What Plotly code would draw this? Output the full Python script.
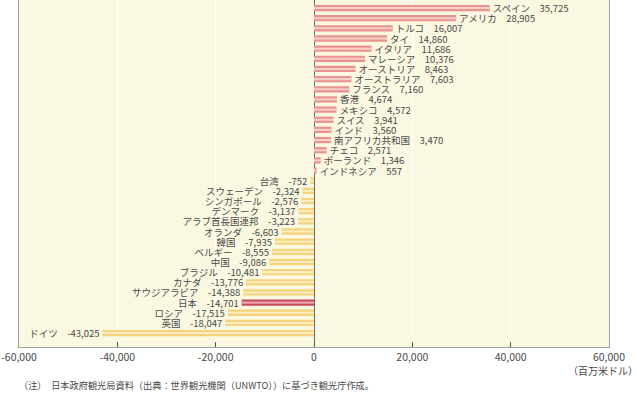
import plotly.graph_objects as go

countries = ["スペイン", "アメリカ", "トルコ", "タイ", "イタリア", "マレーシア", "オーストリア",
             "オーストラリア", "フランス", "香港", "メキシコ", "スイス", "インド", "南アフリカ共和国",
             "チェコ", "ポーランド", "インドネシア", "台湾", "スウェーデン", "シンガポール",
             "デンマーク", "アラブ首長国連邦", "オランダ", "韓国", "ベルギー", "中国", "ブラジル",
             "カナダ", "サウジアラビア", "日本", "ロシア", "英国", "ドイツ"]
values = [35725, 28905, 16007, 14860, 11686, 10376, 8463, 7603, 7160, 4674, 4572, 3941, 3560,
          3470, 2571, 1346, 557, -752, -2324, -2576, -3137, -3223, -6603, -7935, -8555, -9086,
          -10481, -13776, -14388, -14701, -17515, -18047, -43025]
tick_vals = [-60000, -40000, -20000, 0, 20000, 40000, 60000]
tick_text = ["-60,000", "-40,000", "-20,000", "0", "20,000", "40,000", "60,000"]

FONT = "Noto Sans CJK JP"
pos = list(range(len(countries)))

outer, inner, labels = [], [], []
for c, v in zip(countries, values):
    if c == "日本":
        outer.append("#C9485C"); inner.append("#EBA3AE")
    elif v >= 0:
        outer.append("#E8938E"); inner.append("#F7CFC6")
    else:
        outer.append("#F5D37E"); inner.append("#FCEDBE")
    labels.append(f"{c}\u3000{v:,}")

fig = go.Figure()
fig.add_trace(go.Bar(
    y=pos, x=values, orientation="h", width=0.62,
    marker=dict(color=outer, line=dict(width=0)),
    text=labels, textposition="outside", cliponaxis=False,
    textfont=dict(family=FONT, size=9.5, color="#4a4a4a"),
    constraintext="none", hoverinfo="skip"))
fig.add_trace(go.Bar(
    y=pos, x=values, orientation="h", width=0.2,
    marker=dict(color=inner, line=dict(width=0)), hoverinfo="skip"))

fig.update_layout(
    width=637, height=393, barmode="overlay", showlegend=False,
    margin=dict(l=19, r=28, t=0, b=46),
    paper_bgcolor="white", plot_bgcolor="#FBF8E1",
    font=dict(family=FONT, size=10, color="#4a4a4a"),
    xaxis=dict(range=[-60000, 60000], tickvals=tick_vals, ticktext=tick_text,
               showgrid=True, gridcolor="white", gridwidth=1.2,
               zeroline=True, zerolinecolor="#6a6a6a", zerolinewidth=1,
               ticks="inside", ticklen=5, tickcolor="#555",
               showline=True, linecolor="#a0a0a0", linewidth=1,
               tickfont=dict(family=FONT, size=10.5, color="#4a4a4a")),
    yaxis=dict(range=[33.37, -0.79], showticklabels=False, showgrid=False,
               zeroline=False, showline=True, linecolor="#a0a0a0", linewidth=1,
               mirror=True, ticks=""),
    annotations=[
        dict(text="（百万米ドル）", xref="paper", yref="paper", x=1.053, y=-0.04,
             xanchor="right", yanchor="top", showarrow=False,
             font=dict(family=FONT, size=10, color="#4a4a4a")),
        dict(text="（注）　日本政府観光局資料（出典：世界観光機関（UNWTO））に基づき観光庁作成。",
             xref="paper", yref="paper", x=-0.003, y=-0.085, xanchor="left", yanchor="top",
             showarrow=False, font=dict(family=FONT, size=9.2, color="#4a4a4a")),
    ],
)

fig.write_html("out.html", config={"displayModeBar": False},
               post_script="document.body.style.margin='0';")
